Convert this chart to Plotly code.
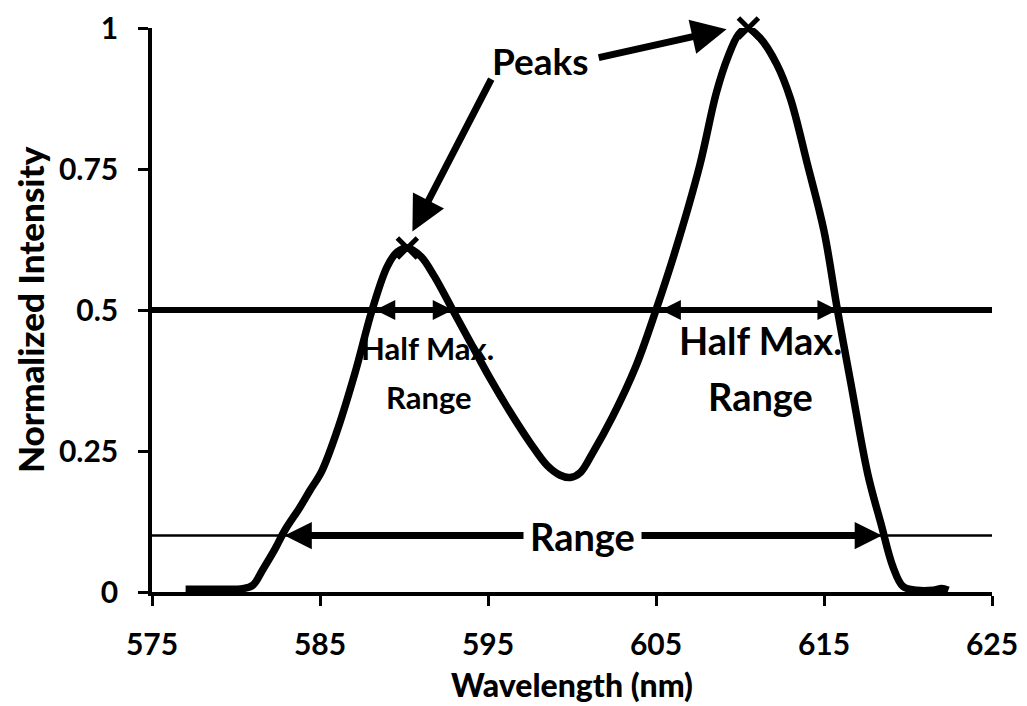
import plotly.graph_objects as go

# ---- data ----
wavelength = [577.0, 579.0, 580.4, 581.0, 581.6, 582.3, 582.9, 583.8, 584.4, 585.1,
              586.0, 587.1, 588.1, 589.0, 589.6, 590.2, 591.0, 591.8, 592.9, 594.0,
              595.1, 596.3, 597.5, 598.5, 599.3, 599.9, 600.5, 601.2, 602.4, 603.8,
              605.0, 606.2, 607.6, 608.6, 609.3, 609.9, 610.4, 611.2, 612.2, 613.0,
              614.0, 615.0, 615.8, 616.6, 617.6, 618.4, 619.1, 619.7, 620.5, 621.5,
              622.0, 622.4]
intensity = [0.005, 0.005, 0.006, 0.012, 0.04, 0.075, 0.109, 0.15, 0.18, 0.214,
             0.284, 0.39, 0.50, 0.577, 0.603, 0.61, 0.595, 0.56, 0.50, 0.44,
             0.38, 0.32, 0.265, 0.225, 0.207, 0.203, 0.212, 0.245, 0.31, 0.40,
             0.50, 0.61, 0.756, 0.886, 0.95, 0.988, 1.0, 0.982, 0.935, 0.875,
             0.76, 0.64, 0.50, 0.37, 0.21, 0.12, 0.045, 0.01, 0.003, 0.003,
             0.006, 0.003]

peak_wavelength = [590.2, 610.5]
peak_intensity = [0.61, 1.0]

half_max_level = 0.5
range_level = 0.1
half_max_left = [588.2, 592.9]
half_max_right = [605.2, 615.8]
range_bounds = [582.8, 618.45]

x_ticks = [575, 585, 595, 605, 615, 625]
y_ticks = [0, 0.25, 0.5, 0.75, 1]
y_ticklabels = ["0", "0.25", "0.5", "0.75", "1"]

x_title = "Wavelength (nm)"
y_title = "Normalized Intensity"

FONT = "Lato"

fig = go.Figure()

fig.add_trace(go.Scatter(
    x=wavelength, y=intensity, mode="lines",
    line=dict(color="black", width=7.5, shape="spline", smoothing=1.0),
    cliponaxis=False, hoverinfo="skip", showlegend=False))

fig.add_trace(go.Scatter(
    x=peak_wavelength, y=peak_intensity, mode="markers",
    marker=dict(symbol="x-thin", size=20, line=dict(color="black", width=5)),
    cliponaxis=False, hoverinfo="skip", showlegend=False))

# horizontal reference lines
fig.add_shape(type="line", xref="x", yref="y", x0=575, x1=625,
              y0=half_max_level, y1=half_max_level,
              line=dict(color="black", width=6), layer="below")
fig.add_shape(type="line", xref="x", yref="y", x0=575, x1=625,
              y0=range_level, y1=range_level,
              line=dict(color="black", width=2.5), layer="below")

annotations = []


def double_arrow(x0, x1, y, width, size):
    return dict(x=x1, y=y, ax=x0, ay=y, xref="x", yref="y", axref="x", ayref="y",
                text="", showarrow=True, arrowhead=2, arrowsize=size,
                arrowwidth=width, arrowcolor="black", arrowside="end+start",
                startarrowhead=2, startarrowsize=size, standoff=0, startstandoff=0)


annotations.append(double_arrow(half_max_left[0], half_max_left[1], half_max_level, 5, 0.8))
annotations.append(double_arrow(half_max_right[0], half_max_right[1], half_max_level, 5, 0.8))
annotations.append(double_arrow(range_bounds[0], range_bounds[1], range_level, 7, 0.78))

# Peaks arrows
annotations.append(dict(x=590.5, y=0.639, ax=595.24, ay=0.912, xref="x", yref="y",
                        axref="x", ayref="y", text="", showarrow=True, arrowhead=2,
                        arrowsize=1.0, arrowwidth=7, arrowcolor="black", standoff=0))
annotations.append(dict(x=609.2, y=0.998, ax=601.5, ay=0.947, xref="x", yref="y",
                        axref="x", ayref="y", text="", showarrow=True, arrowhead=2,
                        arrowsize=1.0, arrowwidth=7, arrowcolor="black", standoff=0))

bold = dict(family=FONT, color="black", weight="bold")

annotations.append(dict(x=598.1, y=0.942, xref="x", yref="y", text="Peaks",
                        showarrow=False, font=dict(size=37, **bold)))
annotations.append(dict(x=(range_bounds[0] + range_bounds[1]) / 2, y=range_level,
                        xref="x", yref="y", text="Range", showarrow=False,
                        bgcolor="white", borderpad=6, font=dict(size=38, **bold)))
annotations.append(dict(x=591.4, y=0.432, xref="x", yref="y", text="Half Max.",
                        showarrow=False, font=dict(size=31, **bold)))
annotations.append(dict(x=591.5, y=0.345, xref="x", yref="y", text="Range",
                        showarrow=False, font=dict(size=31, **bold)))
annotations.append(dict(x=611.2, y=0.447, xref="x", yref="y", text="Half Max.",
                        showarrow=False, font=dict(size=38, **bold)))
annotations.append(dict(x=611.2, y=0.348, xref="x", yref="y", text="Range",
                        showarrow=False, font=dict(size=38, **bold)))

# axis titles
title_font = dict(family=FONT, size=32, color="black", weight=900)
annotations.append(dict(x=0.5, y=-0.1646, xref="paper", yref="paper", text=x_title,
                        showarrow=False, xanchor="center", yanchor="middle",
                        font=title_font))
annotations.append(dict(x=-0.1452, y=0.5, xref="paper", yref="paper", text=y_title,
                        showarrow=False, xanchor="center", yanchor="middle",
                        textangle=-90, font=dict(title_font, size=35)))

# the page adds an 8px body margin, so the figure is sized to fit the window
fig.update_layout(
    width=1019, height=698,
    margin=dict(l=144, r=35, t=20, b=114),
    paper_bgcolor="white", plot_bgcolor="white",
    annotations=annotations,
    showlegend=False,
    xaxis=dict(range=[575, 625], tickvals=x_ticks, ticks="outside", ticklen=10,
               tickwidth=3, tickcolor="black", showline=True, linecolor="black",
               linewidth=3.5, showgrid=False, zeroline=False, automargin=False,
               tickfont=dict(family=FONT, size=30, color="black", weight="bold"),
               ticklabelstandoff=13, ticklabeloverflow="allow"),
    yaxis=dict(range=[0, 1], tickvals=y_ticks, ticktext=y_ticklabels, ticks="outside",
               ticklen=10, tickwidth=3, tickcolor="black", showline=True,
               linecolor="black", linewidth=3.5, showgrid=False, zeroline=False,
               automargin=False,
               tickfont=dict(family=FONT, size=30, color="black", weight="bold"),
               ticklabelstandoff=14, ticklabeloverflow="allow"),
)

fig.write_html("out.html")
